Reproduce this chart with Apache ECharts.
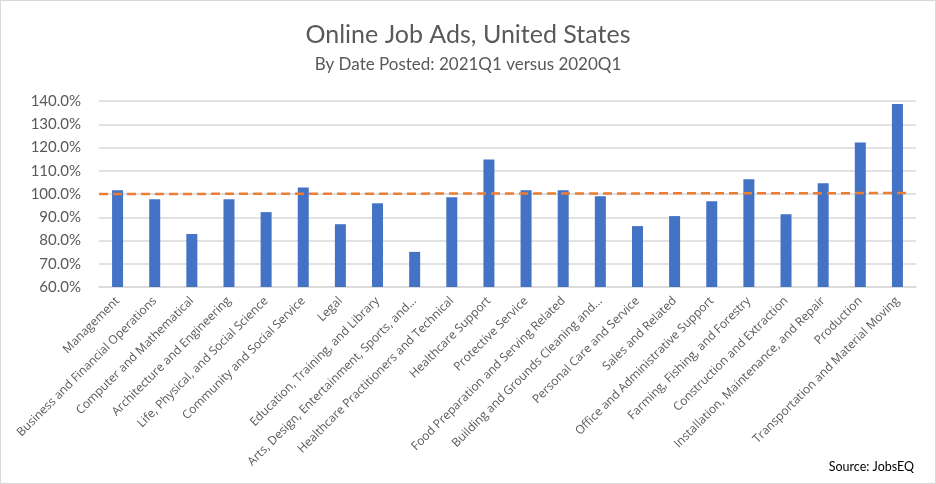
<!DOCTYPE html>
<html><head><meta charset="utf-8">
<script src="https://cdn.jsdelivr.net/npm/echarts@6/dist/echarts.min.js"></script>
<style>html,body{margin:0;padding:0;background:#fff}#c{width:934px;height:482px;border:1px solid #d9d9d9}</style>
</head><body><div id="c"></div>
<script>
const categories = ["Management","Business and Financial Operations","Computer and Mathematical","Architecture and Engineering","Life, Physical, and Social Science","Community and Social Service","Legal","Education, Training, and Library","Arts, Design, Entertainment, Sports, and...","Healthcare Practitioners and Technical","Healthcare Support","Protective Service","Food Preparation and Serving Related","Building and Grounds Cleaning and...","Personal Care and Service","Sales and Related","Office and Administrative Support","Farming, Fishing, and Forestry","Construction and Extraction","Installation, Maintenance, and Repair","Production","Transportation and Material Moving"];
const ratioValues = [101.6,97.7,82.8,97.7,92.2,102.8,87.0,96.0,75.1,98.6,114.8,101.6,101.6,99.0,86.2,90.5,96.9,106.3,91.3,104.6,122.1,138.7];
const referenceLine = [[0,100.0],[1,100.4]];
const yTicks = {min:60, max:140, interval:10};
const font = "Lato, 'Open Sans', sans-serif";
const chart = echarts.init(document.getElementById('c'));
chart.setOption({
  animation:false,
  title:[
    {text:'Online Job Ads, United States', left:'center', top:16, textStyle:{fontFamily:font, fontSize:25, fontWeight:'normal', color:'#595959'}},
    {text:'By Date Posted: 2021Q1 versus 2020Q1', left:'center', top:50, textStyle:{fontFamily:font, fontSize:17, fontWeight:'normal', color:'#595959'}},
    {text:'Source: JobsEQ', right:16, top:454, textStyle:{fontFamily:font, fontSize:12.5, fontWeight:'normal', color:'#000'}}
  ],
  grid:{left:98, right:19, top:100, bottom:196, containLabel:false},
  xAxis:[
    {type:'category', data:categories, axisTick:{show:false},
     axisLine:{lineStyle:{color:'#d9d9d9', width:1.5}},
     axisLabel:{rotate:45, interval:0, fontFamily:"'Open Sans', sans-serif", fontSize:12, color:'#595959', margin:12}},
    {type:'value', min:0, max:1.007, show:false}
  ],
  yAxis:{type:'value', min:yTicks.min, max:yTicks.max, interval:yTicks.interval,
    axisLine:{show:false}, axisTick:{show:false},
    splitLine:{lineStyle:{color:'#d9d9d9', width:1.5}},
    axisLabel:{formatter:v=>v.toFixed(1)+'%', fontFamily:font, fontSize:15, color:'#595959', margin:18}},
  series:[
    {type:'bar', data:ratioValues, barWidth:11, itemStyle:{color:'#4472c4'}},
    {type:'line', xAxisIndex:1, data:referenceLine, symbol:'none', z:5, clip:false,
     lineStyle:{color:'#ed7d31', width:2.5, type:[9,5]}}
  ]
});
</script></body></html>
